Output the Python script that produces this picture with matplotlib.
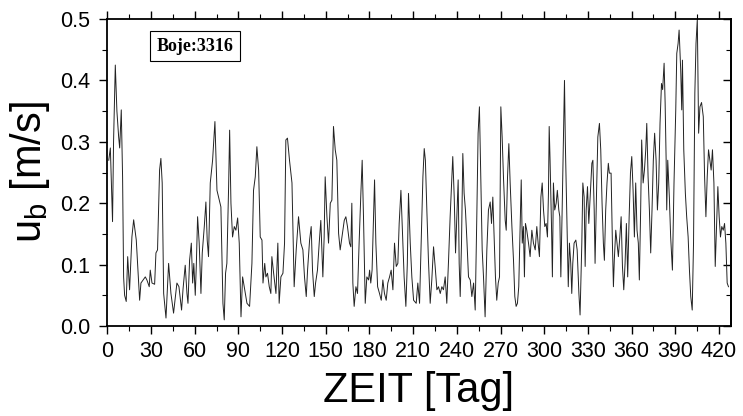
import matplotlib
matplotlib.use('Agg')
import matplotlib.pyplot as plt
from matplotlib.ticker import MultipleLocator, FormatStrFormatter

plt.rcParams['font.family'] = ['Liberation Sans', 'DejaVu Sans']
plt.rcParams['mathtext.fontset'] = 'custom'
plt.rcParams['mathtext.rm'] = 'Liberation Sans'
plt.rcParams['mathtext.it'] = 'Liberation Sans'

# days since start and bottom orbital velocity u_b [m/s]
days = [1.0, 2.1, 3.6, 4.3, 5.5, 6.6, 7.8, 8.5, 9.6, 10.5, 11.2, 11.9, 13.0, 14.0, 15.3, 16.9,
        18.1, 19.9, 22.2, 23.1, 26.1, 27.2, 28.8, 29.5, 30.7, 32.5, 33.4, 34.5, 35.9, 36.8, 37.7,
        38.7, 40.3, 42.1, 43.7, 45.5, 47.8, 49.2, 51.0, 52.0, 53.5, 54.7, 55.4, 56.5, 57.7, 58.6,
        59.4, 60.4, 61.1, 62.0, 63.1, 64.3, 65.2, 66.6, 67.7, 68.6, 69.5, 70.7, 72.3, 73.9, 75.3,
        76.4, 78.0, 79.4, 80.3, 81.2, 82.1, 83.3, 84.0, 84.9, 86.0, 87.2, 88.3, 89.5, 90.6, 91.8,
        92.9, 94.0, 95.9, 97.7, 99.3, 100.4, 101.6, 102.7, 103.9, 105.0, 106.2, 106.9, 108.1, 108.9,
        110.0, 111.2, 112.3, 113.0, 114.2, 115.8, 117.1, 118.0, 119.2, 120.6, 121.7, 122.6, 123.7,
        125.1, 126.8, 128.3, 129.7, 131.3, 132.9, 134.3, 135.4, 136.6, 137.5, 138.9, 140.0, 140.9,
        142.1, 143.0, 144.3, 145.5, 146.6, 148.0, 148.9, 149.6, 150.8, 151.9, 153.1, 154.2, 155.3,
        156.5, 157.6, 158.8, 159.9, 161.1, 162.7, 163.8, 164.9, 166.3, 167.2, 167.9, 168.6, 169.5,
        170.7, 171.8, 172.9, 174.1, 175.0, 175.9, 177.1, 178.2, 179.4, 180.1, 180.9, 181.8, 183.5,
        184.4, 185.6, 186.9, 188.1, 189.2, 190.3, 191.5, 192.6, 193.8, 194.9, 196.1, 197.2, 198.4,
        199.5, 200.4, 201.6, 202.5, 203.8, 205.0, 206.0, 206.8, 208.0, 209.1, 210.3, 212.1, 213.2,
        214.4, 215.5, 216.7, 217.6, 218.4, 219.4, 220.5, 221.7, 222.8, 224.0, 225.1, 226.3, 227.4,
        228.6, 229.7, 230.8, 232.0, 233.1, 234.3, 235.4, 236.6, 237.2, 238.2, 239.1, 240.0, 240.9,
        241.6, 242.3, 243.2, 244.1, 245.0, 245.9, 246.9, 248.0, 249.2, 250.3, 251.5, 252.6, 253.7,
        254.6, 255.5, 256.4, 257.4, 258.3, 259.4, 260.6, 261.7, 262.9, 263.8, 264.7, 265.6, 266.5,
        267.4, 268.4, 269.3, 270.2, 271.1, 272.0, 273.2, 273.9, 274.8, 275.7, 276.6, 277.8, 278.9,
        279.8, 280.7, 281.6, 282.5, 283.5, 284.2, 284.9, 285.7, 286.4, 287.1, 288.0, 289.2, 290.3,
        291.5, 292.6, 293.8, 294.9, 295.8, 296.7, 297.7, 298.6, 299.5, 300.4, 301.3, 302.2, 302.9,
        303.4, 304.0, 305.0, 305.6, 306.3, 307.2, 308.2, 309.0, 310.0, 310.7, 311.4, 312.3, 313.2,
        313.9, 314.5, 315.5, 316.5, 317.3, 318.2, 318.9, 319.6, 320.5, 321.7, 322.6, 323.8, 324.6,
        325.8, 326.5, 327.4, 328.1, 328.8, 329.7, 330.6, 331.5, 332.7, 333.4, 334.3, 334.9, 335.9,
        336.8, 337.9, 338.8, 339.7, 340.6, 341.3, 342.2, 343.1, 344.0, 344.7, 345.9, 346.8, 347.5,
        348.1, 349.1, 350.0, 350.9, 351.9, 352.8, 353.7, 354.6, 355.5, 356.4, 357.3, 358.3, 359.2,
        360.1, 361.0, 361.9, 362.8, 363.7, 364.6, 365.3, 366.2, 366.9, 367.9, 368.8, 369.7, 370.4,
        371.3, 372.2, 373.1, 374.0, 374.9, 375.8, 376.8, 377.7, 378.6, 379.5, 380.5, 381.3, 382.3,
        383.0, 383.7, 384.1, 384.8, 385.9, 386.8, 388.0, 389.1, 390.3, 391.0, 391.9, 392.6, 393.7,
        394.4, 394.9, 395.8, 396.9, 397.8, 398.8, 399.7, 400.6, 401.6, 402.5, 403.4, 404.2, 405.1,
        406.0, 406.9, 408.0, 409.2, 410.1, 411.0, 411.9, 412.8, 413.7, 414.6, 415.5, 416.5, 417.4,
        418.3, 419.2, 420.1, 421.0, 421.9, 422.9, 423.8, 424.7, 425.6, 426.5]
ub = [0.27, 0.29, 0.17, 0.30, 0.425, 0.35, 0.308, 0.29, 0.352, 0.243, 0.08, 0.05, 0.04, 0.113, 0.059, 0.145,
      0.173, 0.14, 0.042, 0.07, 0.08, 0.075, 0.064, 0.091, 0.07, 0.068, 0.119, 0.124, 0.254, 0.273, 0.233,
      0.053, 0.013, 0.102, 0.053, 0.021, 0.07, 0.064, 0.026, 0.06, 0.099, 0.053, 0.037, 0.107, 0.135, 0.07,
      0.102, 0.05, 0.097, 0.178, 0.135, 0.053, 0.119, 0.162, 0.202, 0.14, 0.113, 0.233, 0.27, 0.333, 0.221,
      0.21, 0.194, 0.037, 0.01, 0.086, 0.102, 0.227, 0.319, 0.2, 0.145, 0.162, 0.156, 0.176, 0.135, 0.015,
      0.08, 0.064, 0.037, 0.032, 0.102, 0.221, 0.243, 0.292, 0.254, 0.145, 0.14, 0.07, 0.102, 0.08,
      0.086, 0.064, 0.053, 0.113, 0.086, 0.053, 0.135, 0.037, 0.08, 0.086, 0.135, 0.303, 0.306,
      0.27, 0.233, 0.064, 0.124, 0.178, 0.135, 0.124, 0.08, 0.048, 0.091, 0.14, 0.162, 0.091,
      0.048, 0.07, 0.091, 0.135, 0.172, 0.08, 0.145, 0.243, 0.178, 0.135, 0.2, 0.205, 0.325,
      0.287, 0.27, 0.151, 0.124, 0.145, 0.172, 0.178, 0.162, 0.135, 0.129, 0.2, 0.07, 0.032,
      0.064, 0.053, 0.135, 0.216, 0.27, 0.178, 0.037, 0.08, 0.075, 0.091, 0.07, 0.091, 0.238,
      0.135, 0.064, 0.053, 0.042, 0.075, 0.053, 0.042, 0.07, 0.08, 0.091, 0.059, 0.135, 0.097,
      0.102, 0.167, 0.221, 0.162, 0.08, 0.032, 0.102, 0.216, 0.135, 0.08, 0.042, 0.037, 0.07,
      0.037, 0.135, 0.243, 0.289, 0.27, 0.189, 0.107, 0.037, 0.075, 0.129, 0.097, 0.059, 0.064,
      0.053, 0.064, 0.059, 0.08, 0.037, 0.107, 0.178, 0.243, 0.276, 0.21, 0.119, 0.178, 0.238,
      0.102, 0.048, 0.135, 0.281, 0.216, 0.189, 0.14, 0.08, 0.075, 0.048, 0.07, 0.026, 0.178,
      0.314, 0.357, 0.249, 0.124, 0.08, 0.015, 0.124, 0.189, 0.202, 0.167, 0.21, 0.145, 0.08,
      0.042, 0.07, 0.08, 0.357, 0.308, 0.243, 0.172, 0.156, 0.243, 0.297, 0.233, 0.162, 0.107,
      0.048, 0.032, 0.037, 0.064, 0.162, 0.238, 0.135, 0.162, 0.08, 0.167, 0.156, 0.135, 0.113,
      0.156, 0.135, 0.124, 0.162, 0.135, 0.113, 0.21, 0.233, 0.189, 0.162, 0.167, 0.145, 0.216,
      0.325, 0.27, 0.162, 0.08, 0.233, 0.189, 0.2, 0.221, 0.189, 0.178, 0.08, 0.189, 0.308,
      0.4, 0.297, 0.178, 0.064, 0.135, 0.102, 0.053, 0.102, 0.135, 0.14, 0.124, 0.053, 0.018,
      0.135, 0.233, 0.21, 0.097, 0.189, 0.227, 0.167, 0.21, 0.265, 0.27, 0.189, 0.102, 0.216,
      0.308, 0.33, 0.287, 0.2, 0.135, 0.107, 0.189, 0.233, 0.265, 0.249, 0.249, 0.135, 0.064,
      0.107, 0.156, 0.135, 0.113, 0.145, 0.178, 0.097, 0.059, 0.102, 0.167, 0.08, 0.178, 0.249,
      0.276, 0.221, 0.145, 0.233, 0.156, 0.135, 0.075, 0.189, 0.303, 0.233, 0.254, 0.287, 0.33,
      0.243, 0.189, 0.119, 0.189, 0.27, 0.314, 0.27, 0.189, 0.233, 0.33, 0.395, 0.385, 0.428,
      0.364, 0.27, 0.189, 0.27, 0.21, 0.145, 0.091, 0.233, 0.352, 0.444, 0.46, 0.482, 0.417,
      0.352, 0.433, 0.287, 0.216, 0.178, 0.145, 0.091, 0.048, 0.026, 0.135, 0.379, 0.46, 0.5,
      0.314, 0.357, 0.364, 0.341, 0.243, 0.178, 0.243, 0.287, 0.27, 0.254, 0.287, 0.233, 0.097,
      0.162, 0.227, 0.178, 0.145, 0.162, 0.156, 0.167, 0.135, 0.07, 0.064]

fig = plt.figure(figsize=(7.43, 4.16), dpi=100)
ax = fig.add_axes([0.1444, 0.2163, 0.839, 0.738])

ax.plot(days, ub, color='#222222', lw=0.7)

ax.set_xlim(0, 428)
ax.set_ylim(0, 0.5)
ax.xaxis.set_major_locator(MultipleLocator(30))
ax.xaxis.set_minor_locator(MultipleLocator(15))
ax.yaxis.set_major_locator(MultipleLocator(0.1))
ax.yaxis.set_minor_locator(MultipleLocator(0.05))
ax.yaxis.set_major_formatter(FormatStrFormatter('%.1f'))

ax.tick_params(axis='x', which='both', direction='out', top=True, labelsize=15.5, pad=5)
ax.tick_params(axis='y', which='both', direction='out', labelsize=15.5, pad=6)
ax.tick_params(which='major', length=6, width=1)
ax.tick_params(which='minor', length=3.5, width=0.8)
for s in ax.spines.values():
    s.set_linewidth(1.3)

# right-hand ticks point into the frame
sec = ax.secondary_yaxis('right')
sec.yaxis.set_major_locator(MultipleLocator(0.1))
sec.yaxis.set_minor_locator(MultipleLocator(0.05))
sec.tick_params(which='both', direction='in', labelright=False)
sec.tick_params(which='major', length=6, width=1)
sec.tick_params(which='minor', length=3.5, width=0.8)
sec.spines['right'].set_linewidth(1.3)

ax.set_xlabel('ZEIT [Tag]', fontsize=30, labelpad=6)
ax.set_ylabel(r'$\mathregular{u_b}$ [m/s]', fontsize=30, labelpad=6)

ax.text(0.141, 0.912, 'Boje:3316', transform=ax.transAxes, ha='center', va='center',
        fontsize=13, fontweight='bold', family='Liberation Serif',
        bbox=dict(boxstyle='square,pad=0.35', fc='white', ec='black', lw=0.8))

fig.savefig('out.png', dpi=100)
